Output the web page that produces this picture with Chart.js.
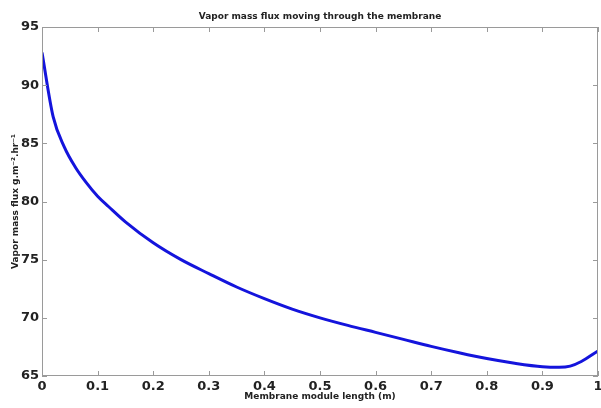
<!DOCTYPE html>
<html>
<head>
<meta charset="utf-8">
<script src="https://cdn.jsdelivr.net/npm/chart.js@4/dist/chart.umd.min.js"></script>
<style>
    html, body { margin: 0; padding: 0; background: #fff; }
    #wrap { width: 601px; height: 408px; }
</style>
</head>
<body>
<div id="wrap"><canvas id="chart"></canvas></div>
<script>
const lengths = [0, 0.02, 0.04, 0.06, 0.08, 0.10, 0.12, 0.15, 0.20, 0.25, 0.30, 0.35, 0.40, 0.45,
    0.50, 0.55, 0.60, 0.65, 0.70, 0.75, 0.80, 0.85, 0.90, 0.93, 0.95, 0.97, 1.00];
const flux = [92.8, 87.3, 84.7, 82.95, 81.6, 80.45, 79.55, 78.25, 76.45, 75.0, 73.8, 72.65, 71.65, 70.75,
    70.0, 69.35, 68.75, 68.15, 67.55, 67.0, 66.5, 66.1, 65.8, 65.75, 65.85, 66.25, 67.15];

const titleText = 'Vapor mass flux moving through the membrane';
const xTitle = 'Membrane module length (m)';
const yTitle = 'Vapor mass flux g.m\u207B\u00B2.hr\u207B\u00B9';

const axisGray = '#9a9a9a';
const fontFamily = "'DejaVu Sans', Verdana, sans-serif";

// box round the plot with inward ticks on all four sides
const boxTicks = {
    id: 'boxTicks',
    afterDatasetsDraw(chart) {
        const { ctx, chartArea: a, scales } = chart;
        ctx.save();
        ctx.strokeStyle = axisGray;
        ctx.lineWidth = 1;
        ctx.strokeRect(a.left + 0.5, a.top + 0.5, a.right - a.left - 1, a.bottom - a.top - 1);
        ctx.beginPath();
        scales.x.ticks.forEach(t => {
            const px = Math.round(scales.x.getPixelForValue(t.value)) + 0.5;
            ctx.moveTo(px, a.bottom); ctx.lineTo(px, a.bottom - 5);
            ctx.moveTo(px, a.top); ctx.lineTo(px, a.top + 5);
        });
        scales.y.ticks.forEach(t => {
            const py = Math.round(scales.y.getPixelForValue(t.value)) + 0.5;
            ctx.moveTo(a.left, py); ctx.lineTo(a.left + 5, py);
            ctx.moveTo(a.right, py); ctx.lineTo(a.right - 5, py);
        });
        ctx.stroke();
        ctx.restore();
    }
};

const ctx = document.getElementById('chart');

const chart = new Chart(ctx, {
    type: 'line',
    data: {
        labels: lengths,
        datasets: [
            {
                label: 'Flux',
                data: lengths.map((x, i) => ({ x: x, y: flux[i] })),
                borderColor: '#1414dc',
                borderWidth: 3,
                pointRadius: 0,
                fill: false,
                cubicInterpolationMode: 'monotone'
            }
        ]
    },
    options: {
        responsive: true,
        maintainAspectRatio: false,
        animation: false,
        layout: {
            padding: { top: 0, right: 3, left: 0, bottom: 0 }
        },
        plugins: {
            legend: { display: false },
            tooltip: { enabled: false },
            title: {
                display: true,
                text: titleText,
                fullSize: false,
                color: '#222',
                font: { family: fontFamily, size: 9, weight: 'bold' },
                padding: { top: 11, bottom: 5.2 }
            }
        },
        scales: {
            x: {
                type: 'linear',
                min: 0,
                max: 1,
                grid: { display: false, drawTicks: false },
                border: { display: false },
                ticks: {
                    stepSize: 0.1,
                    autoSkip: false,
                    maxRotation: 0,
                    padding: 3,
                    color: '#222',
                    font: { family: fontFamily, size: 13, weight: 'bold' },
                    callback: (v) => String(Number(v.toFixed(1)))
                },
                title: {
                    display: true,
                    text: xTitle,
                    color: '#222',
                    font: { family: fontFamily, size: 9, weight: 'bold' },
                    padding: { top: 0, bottom: 5.5 }
                },
                afterFit(scale) {
                    scale.height = 32;
                    scale.paddingLeft = 0;
                    scale.paddingRight = 0;
                }
            },
            y: {
                type: 'linear',
                min: 65,
                max: 95,
                grid: { display: false, drawTicks: false },
                border: { display: false },
                ticks: {
                    stepSize: 5,
                    padding: 3,
                    color: '#222',
                    font: { family: fontFamily, size: 13, weight: 'bold' }
                },
                title: {
                    display: true,
                    text: yTitle,
                    color: '#222',
                    font: { family: fontFamily, size: 9, weight: 'bold' },
                    padding: { top: 10, bottom: 0 }
                },
                afterFit(scale) {
                    scale.width = 42;
                    scale.paddingTop = 0;
                    scale.paddingBottom = 0;
                }
            }
        }
    },
    plugins: [boxTicks]
});
</script>
</body>
</html>
